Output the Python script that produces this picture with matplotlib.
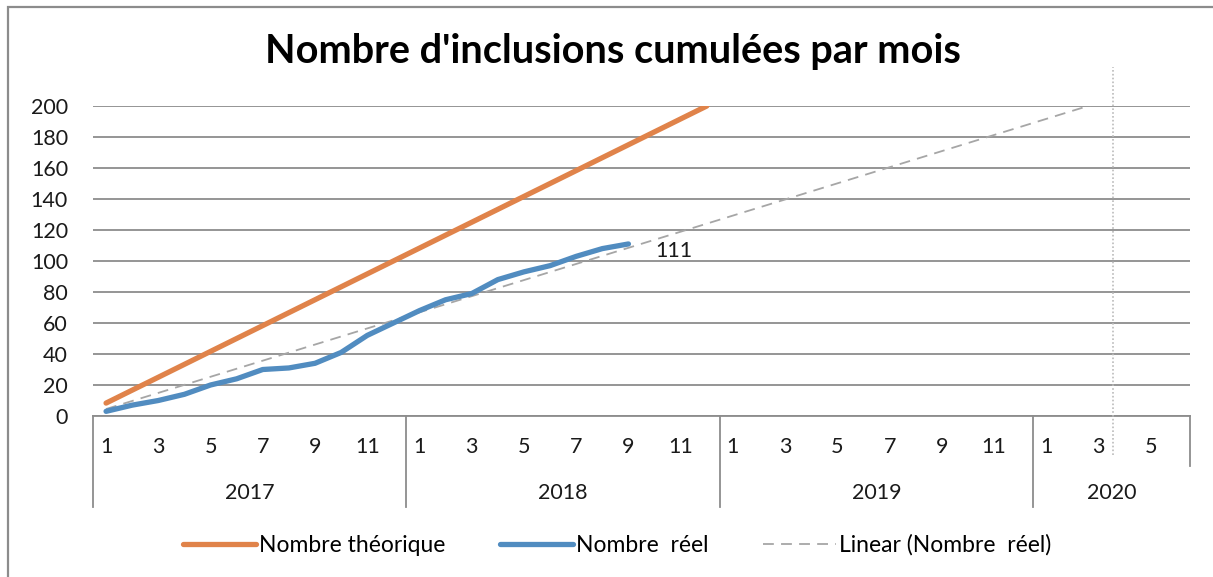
import numpy as np
import matplotlib
matplotlib.use("Agg")
import matplotlib.pyplot as plt
from matplotlib.lines import Line2D
from matplotlib.patches import Rectangle
import matplotlib.transforms as mtransforms

plt.rcParams['font.family'] = ['Lato', 'DejaVu Sans']

title = "Nombre d'inclusions cumulées par mois"
years = ["2017", "2018", "2019", "2020"]
months_per_year = [12, 12, 12, 6]
month_labels_shown = ["1", "3", "5", "7", "9", "11"]

# Nombre théorique: 200 inclusions over 24 months
theorique = [8.33, 16.67, 25.0, 33.33, 41.67, 50.0, 58.33, 66.67, 75.0, 83.33, 91.67, 100.0,
             108.33, 116.67, 125.0, 133.33, 141.67, 150.0, 158.33, 166.67, 175.0, 183.33, 191.67, 200.0]
# Nombre réel (Jan 2017 -> Sep 2018)
reel = [3, 7, 10, 14, 20, 24, 30, 31, 34, 41, 52, 60,
        68, 75, 79, 88, 93, 97, 103, 108, 111]
# Linear trendline of Nombre réel (value at first month, slope per month)
trend_start = 4.5
trend_slope = 5.2
yticks = [0, 20, 40, 60, 80, 100, 120, 140, 160, 180, 200]

c_orange = '#E0834A'
c_blue = '#518CC0'
c_grid = '#8C8C8C'
c_trend = '#A6A6A6'

W, H = 1213, 577
fig = plt.figure(figsize=(W / 100, H / 100), dpi=100)
ax = fig.add_axes([93 / W, 1 - 416 / H, (1190 - 93) / W, (416 - 106) / H])

n_cat = sum(months_per_year)

x_th = np.arange(len(theorique))
x_re = np.arange(len(reel))
ax.plot(x_th, theorique, color=c_orange, lw=3.8, solid_capstyle='round', zorder=4,
        label='Nombre théorique')
ax.plot(x_re, reel, color=c_blue, lw=3.8, solid_capstyle='round', zorder=5,
        label='Nombre  réel')
# linear trendline with forward forecast
x_tr = np.arange(0, n_cat)
ax.plot(x_tr, trend_start + trend_slope * x_tr, color=c_trend, lw=1.3, ls=(0, (6, 4)), zorder=3,
        label='Linear (Nombre  réel)')

ax.annotate(str(reel[-1]), (x_re[-1], reel[-1]), xytext=(19, -5), textcoords='offset points',
            ha='left', va='center', fontsize=15.5, color='#1a1a1a')

ax.set_xlim(-0.5, n_cat - 0.5)
ax.set_ylim(0, 200)
ax.set_yticks(yticks)
ax.set_yticklabels([str(v) for v in yticks], fontsize=15.5, color='#1a1a1a')
ax.tick_params(axis='y', length=0, pad=18)
ax.set_xticks([])
for s in ['top', 'right', 'left', 'bottom']:
    ax.spines[s].set_visible(False)
ax.grid(axis='y', color=c_grid, lw=1.3)
ax.set_axisbelow(True)

# category axis (months / years)
trans = mtransforms.blended_transform_factory(ax.transData, ax.transAxes)
ax.plot([-0.5, n_cat - 0.5], [0, 0], transform=trans, color=c_grid, lw=1.3, clip_on=False)
start = 0
bounds = [-0.5]
for yr, nm in zip(years, months_per_year):
    for m in range(1, nm + 1):
        if str(m) in month_labels_shown:
            ax.text(start + m - 1, -0.1, str(m), transform=trans, ha='center', va='center',
                    fontsize=15.5, color='#1a1a1a')
    ax.text(start + (nm - 1) / 2, -0.248, yr, transform=trans, ha='center', va='center',
            fontsize=15.5, color='#1a1a1a')
    start += nm
    bounds.append(start - 0.5)
for b in bounds[:-1]:
    ax.plot([b, b], [0, -0.294], transform=trans, color=c_grid, lw=1.3, clip_on=False)
ax.plot([bounds[-1], bounds[-1]], [0, -0.161], transform=trans, color=c_grid, lw=1.3, clip_on=False)

# dotted marker line (after March 2020)
ax.plot([38.55, 38.55], [-0.126, 1.126], transform=trans, color='#BBBBBB', lw=1.2,
        ls=(0, (1, 1.3)), clip_on=False, zorder=2)

fig.text(613 / W, 1 - 52 / H, title, ha='center', va='center', fontsize=28.5,
         fontweight='bold', color='#000000')

handles = [Line2D([], [], color=c_orange, lw=3.8, solid_capstyle='round'),
           Line2D([], [], color=c_blue, lw=3.8, solid_capstyle='round'),
           Line2D([], [], color=c_trend, lw=1.3, ls=(0, (6, 4)))]
labels = ['Nombre théorique', 'Nombre  réel', 'Linear (Nombre  réel)']
fig.legend(handles, labels, loc='center', bbox_to_anchor=(617 / W, 1 - 545 / H), ncol=3,
           frameon=False, fontsize=16.5, handlelength=3.2, handletextpad=0.1,
           columnspacing=2.4)

fig.add_artist(Rectangle((8 / W, -0.1), 1.2, 1 - 7 / H + 0.1, transform=fig.transFigure,
                         fill=False, edgecolor='#8C8C8C', lw=1.6))

fig.savefig('out.png', dpi=100, facecolor='white')
